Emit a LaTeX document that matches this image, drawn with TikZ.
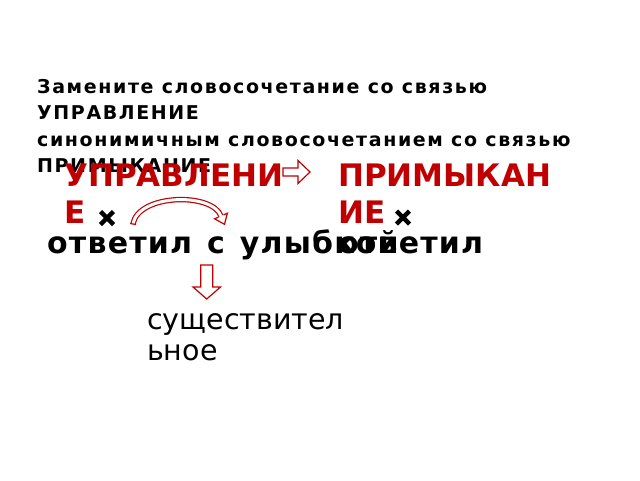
\documentclass[tikz,border=0pt]{standalone}
\usepackage{fontspec}
\setmainfont{DejaVu Sans}
\definecolor{myred}{RGB}{192,0,0}
\newcommand\phrfont{\bfseries\fontsize{30}{35}\selectfont\addfontfeature{LetterSpace=4}\spaceskip=15pt\relax}
\tikzset{
  ttl/.style={anchor=base west, inner sep=0pt, font=\bfseries\fontsize{19}{22}\selectfont\addfontfeature{LetterSpace=8.5}},
  big/.style={anchor=base west, inner sep=0pt, font=\bfseries\fontsize{31}{36}\selectfont, text=myred},
  phr/.style={anchor=base west, inner sep=0pt, font=\phrfont},
  noun/.style={anchor=base west, inner sep=0pt, font=\fontsize{28.5}{34}\selectfont},
  blockarrow/.style={draw=myred, line width=1.2pt, line join=miter, fill=none},
  cross/.style={line width=4.5pt, black},
}
\begin{document}
\begin{tikzpicture}[x=1pt,y=-1pt]
\useasboundingbox (0,0) rectangle (640,480);
% title
\node[ttl] (t1) at (37,93) {Замените словосочетание со связью};
\node[ttl] (t2) at (37,119.5) {УПРАВЛЕНИЕ};
\node[ttl] (t3) at (37,146) {синонимичным словосочетанием со связью};
\node[ttl] (t4) at (37,172.5) {ПРИМЫКАНИЕ};
% red headings
\node[big] (u1) at (64,186) {УПРАВЛЕНИ};
\node[big] (u2) at (64,223) {Е};
\node[big] (p1) at (338,186) {ПРИМЫКАН};
\node[big] (p2) at (338,223) {ИЕ};
% phrases
\node[phr] (f1) at (47,253) {ответил с улыбкой};
\node[phr] (f2) at (338,253) {ответил};
% noun
\node[noun] (n1) at (147,329) {существител};
\node[noun] (n2) at (147,360) {ьное};
% crosses
\draw[cross] (100.5,211.5) -- (113.5,224.5) (100.5,224.5) -- (113.5,211.5);
\draw[cross] (396.5,211) -- (409.5,224) (396.5,224) -- (409.5,211);
% right block arrow
\draw[blockarrow] (283,168) -- (298,168) -- (298,160.5) -- (310,172) -- (298,183.5) -- (298,176) -- (283,176) -- cycle;
% down block arrow
\draw[blockarrow] (200.7,265) -- (212.7,265) -- (212.7,287) -- (220.5,287) -- (206.7,299) -- (193,287) -- (200.7,287) -- cycle;
% curved arrow
\draw[myred, line width=1.2pt, double=white, double distance=3pt] (133,224) .. controls (138,194) and (212,192) .. (221,216);
\draw[myred, line width=1.2pt] (130,223.5) -- (136,224.5);
\fill[white] (227.4,213.2) -- (224.5,224.3) -- (214.6,218.8) -- cycle;
\draw[myred, line width=1.2pt, line join=miter] (223.5,214.9) -- (227.4,213.2) -- (224.5,224.3) -- (214.6,218.8) -- (218.5,217.1);
\end{tikzpicture}
\end{document}
